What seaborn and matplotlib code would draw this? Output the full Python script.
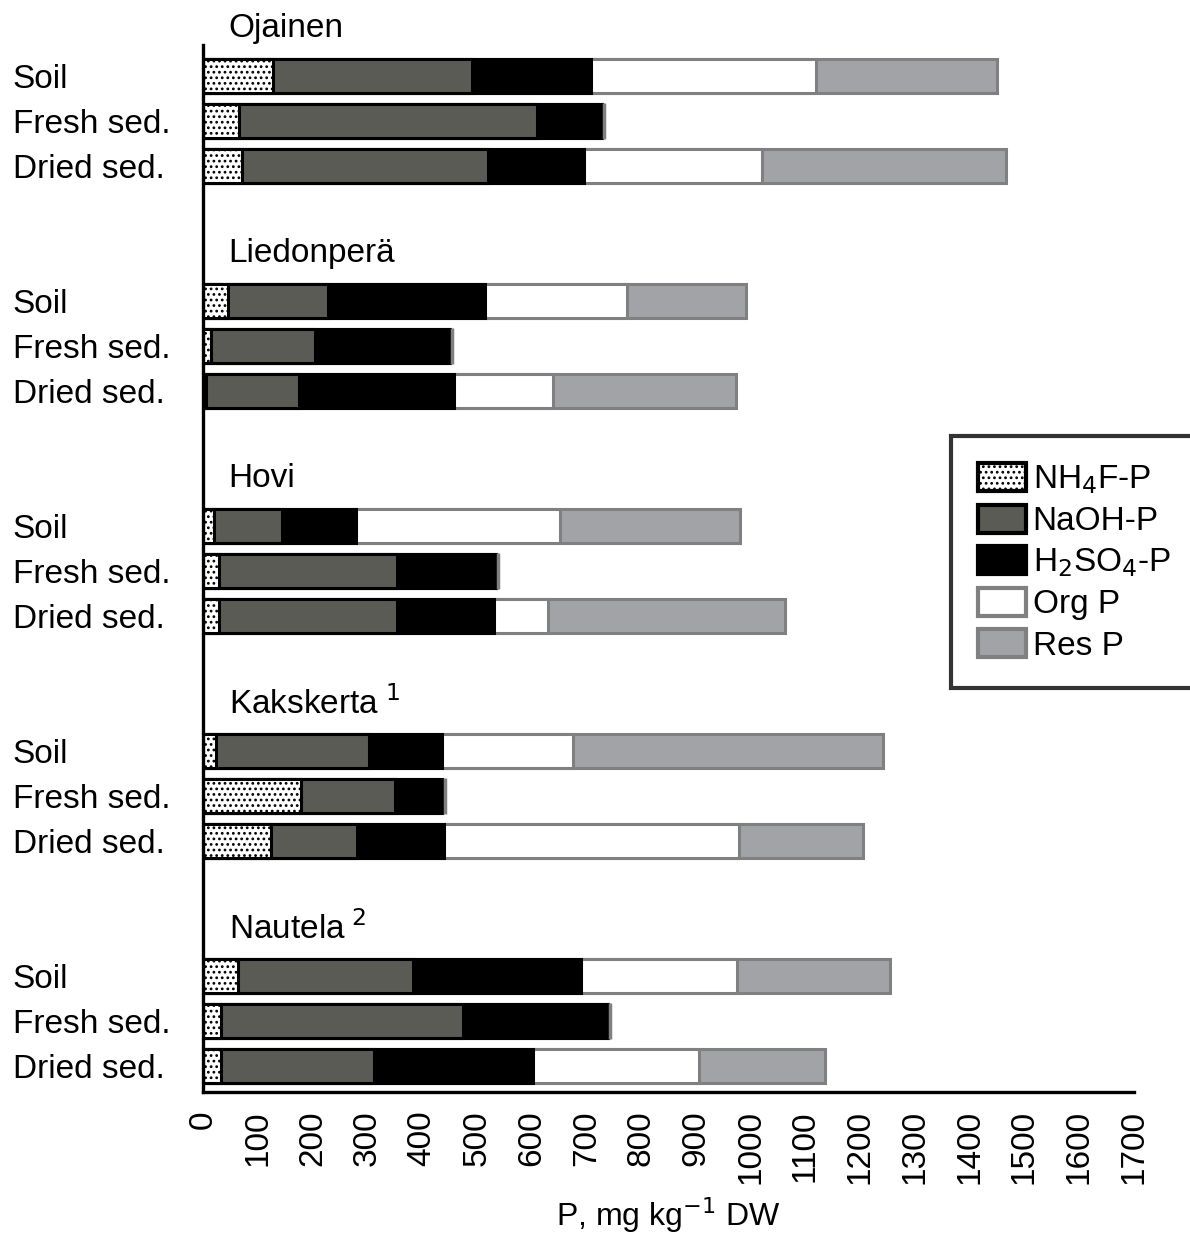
import matplotlib
matplotlib.use("Agg")
import matplotlib.pyplot as plt
from matplotlib.patches import Patch
import numpy as np
import pandas as pd
import seaborn as sns

sites = ["Ojainen", "Liedonperä", "Hovi", "Kakskerta", "Nautela"]
site_marks = ["", "", "", "1", "2"]
samples = ["Soil", "Fresh sed.", "Dried sed."]

# P fractions, mg/kg DW, order: site x sample
nh4f = [127, 66, 71, 45, 15, 5, 20, 29, 29, 24, 179, 125, 63, 33, 33]
naoh = [364, 543, 449, 184, 189, 171, 125, 326, 326, 279, 171, 157, 320, 441, 279]
h2so4 = [217, 119, 175, 286, 247, 282, 135, 180, 177, 133, 87, 158, 308, 266, 291]
org = [412, 0, 326, 260, 0, 181, 371, 0, 98, 239, 0, 538, 284, 0, 303]
res = [329, 0, 446, 217, 0, 334, 330, 0, 433, 567, 0, 227, 280, 0, 229]

GRAY_EDGE = "#808080"
NAOH_C = "#5a5b55"
RES_C = "#a2a3a7"

sns.set_theme(style="white")
plt.rcParams["font.family"] = ["Liberation Sans", "DejaVu Sans"]
plt.rcParams["hatch.linewidth"] = 1.2
plt.rcParams["text.color"] = "black"
plt.rcParams["axes.labelcolor"] = "black"
plt.rcParams["xtick.color"] = "black"
plt.rcParams["ytick.color"] = "black"

rows = []
for g, site in enumerate(sites):
    for i, smp in enumerate(samples):
        k = g * 3 + i
        rows.append({"site": site, "sample": smp, "pos": g * 5 + i,
                     "NH4F": nh4f[k], "NaOH": naoh[k], "H2SO4": h2so4[k],
                     "Org": org[k], "Res": res[k]})
df = pd.DataFrame(rows)
df["c_naoh"] = df.NH4F + df.NaOH
df["c_h2so4"] = df.c_naoh + df.H2SO4
df["c_org"] = df.c_h2so4 + df.Org
df["c_res"] = df.c_org + df.Res

fig = plt.figure(figsize=(11.9, 12.33), dpi=100)
ax = fig.add_axes([203 / 1190, 1 - 1092 / 1233, (1134 - 203) / 1190, (1092 - 45) / 1233])

# overlapping cumulative bars, longest first
layers = [
    ("c_res", RES_C, GRAY_EDGE, None),
    ("c_org", "white", GRAY_EDGE, None),
    ("c_h2so4", "black", "black", None),
    ("c_naoh", NAOH_C, "black", None),
    ("NH4F", "white", "black", "..."),
]
for col, fc, ec, hatch in layers:
    sns.barplot(data=df, x=col, y="pos", orient="h", native_scale=True,
                width=0.75, color=fc, edgecolor=ec, linewidth=2.2,
                hatch=hatch, errorbar=None, saturation=1, ax=ax)

# gray cap at the end of bars without Org/Res fractions
caps = df[df.Org + df.Res == 0]
ax.scatter(caps.c_res + 4, caps.pos, marker="|", s=700, linewidths=2.5,
           color=GRAY_EDGE, zorder=3)

ax.set_xlim(0, 1700)
ax.set_ylim(22.58, -0.69)
ax.set_xticks(np.arange(0, 1701, 100))
ax.tick_params(axis="x", labelrotation=90, labelsize=24, length=9, width=2,
               direction="out", pad=4)
ax.set_yticks(df.pos)
ax.set_yticklabels(df["sample"], fontsize=24, ha="left")
ax.tick_params(axis="y", length=0, pad=137)
ax.set_xlabel("P, mg kg$^{-1}$ DW", fontsize=23, labelpad=8)
ax.set_ylabel("")
for side in ["top", "right"]:
    ax.spines[side].set_visible(False)
for side in ["left", "bottom"]:
    ax.spines[side].set_color("black")
    ax.spines[side].set_linewidth(2.4)

for g, (site, mark) in enumerate(zip(sites, site_marks)):
    label = site if not mark else f"{site}$^{{\\ {mark}}}$"
    ax.text(47, g * 5 - 1.05, label, fontsize=24, va="center", ha="left",
            clip_on=False)

handles = [
    Patch(facecolor="white", edgecolor="black", hatch="...", linewidth=3),
    Patch(facecolor=NAOH_C, edgecolor="black", linewidth=3),
    Patch(facecolor="black", edgecolor="black", linewidth=3),
    Patch(facecolor="white", edgecolor=GRAY_EDGE, linewidth=3),
    Patch(facecolor=RES_C, edgecolor=GRAY_EDGE, linewidth=3),
]
labels = ["NH$_4$F-P", "NaOH-P", "H$_2$SO$_4$-P", "Org P", "Res P"]
leg = fig.legend(handles, labels, loc="upper left",
                 bbox_to_anchor=(951 / 1190, 1 - 436 / 1233),
                 fontsize=24, frameon=True, fancybox=False, edgecolor="black",
                 handlelength=1.45, handleheight=0.95, handletextpad=0.2,
                 labelspacing=0.25, borderpad=0.8, borderaxespad=0)
leg.get_frame().set_linewidth(3)

fig.savefig("out.png", dpi=100)
